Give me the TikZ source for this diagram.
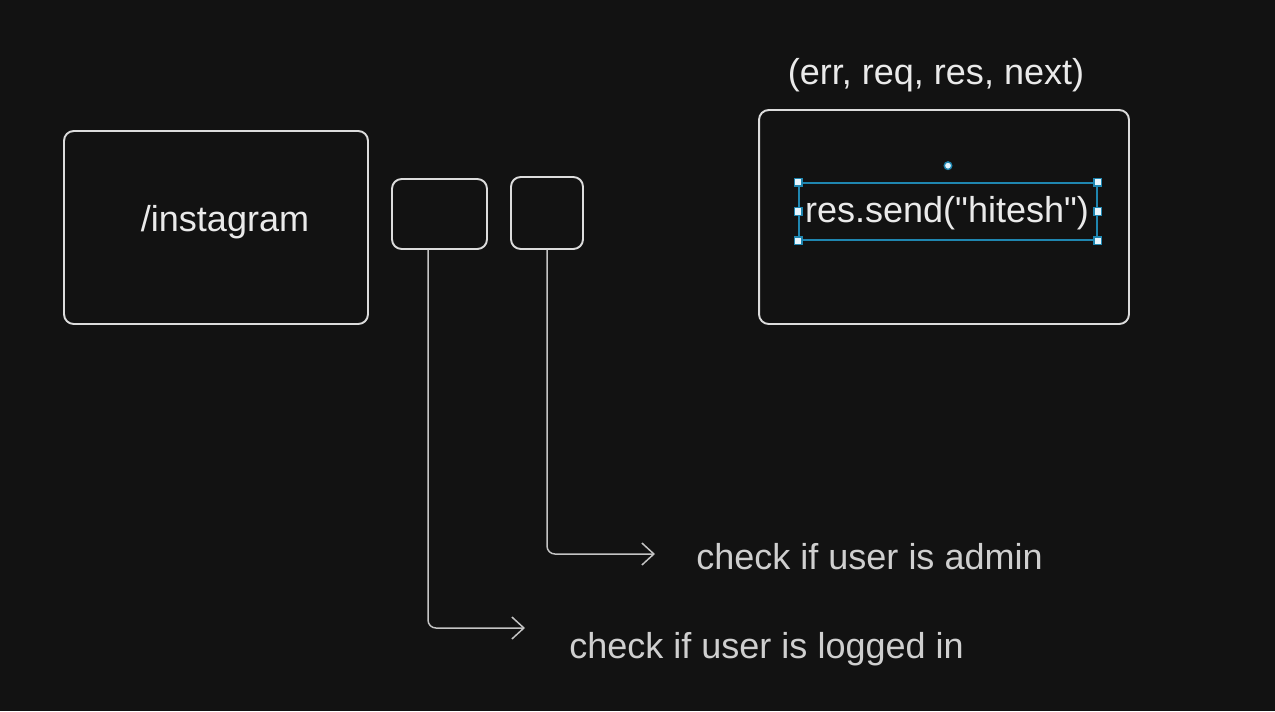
\documentclass[tikz,border=0pt]{standalone}
\usepackage{fontspec}
\setmainfont{Liberation Sans}[Ligatures=TeXOff]
\usepackage{xcolor}
\definecolor{clCanvas}{HTML}{121212}
\definecolor{clStroke}{HTML}{DCDCDC}
\definecolor{clWire}{HTML}{C4C4C4}
\definecolor{clText}{HTML}{EAEAEA}
\definecolor{clNote}{HTML}{CFCFCF}
\definecolor{clSelect}{HTML}{1F86B0}
\definecolor{clHandle}{HTML}{E6F6FF}
\usetikzlibrary{arrows.meta,positioning,calc}
\tikzset{
  sketchbox/.style={rectangle, rounded corners=5.5pt, draw=clStroke, line width=1.1pt,
                    inner sep=0pt, text=clText, font=\fontsize{20.5}{24}\selectfont},
  sketchtext/.style={inner sep=0pt, text=clText, font=\fontsize{20.5}{24}\selectfont},
  notetext/.style={sketchtext, text=clNote, anchor=west},
  selbox/.style={rectangle, draw=clSelect, line width=1pt, inner sep=0pt},
  handle/.style={rectangle, draw=clSelect, fill=clHandle, line width=0.8pt,
                 minimum size=0.15cm, inner sep=0pt},
  rothandle/.style={circle, draw=clSelect, fill=clHandle, line width=0.8pt,
                    minimum size=0.15cm, inner sep=0pt},
  flow/.style={-{Straight Barb[length=2.4mm, width=4.4mm]}, draw=clWire, line width=0.85pt,
               rounded corners=4.5pt},
}

\begin{document}
\begin{tikzpicture}[x=0.02cm, y=-0.02cm]
  \fill[clCanvas] (0,0) rectangle (1275,711);
  \useasboundingbox (0,0) rectangle (1275,711);
  % route and the two middleware boxes
  \node[sketchbox, minimum width=6.08cm, minimum height=3.86cm] (route) at (216,227.5) {};
  \node[sketchtext] (routetxt) at (225,222) {/instagram};
  \node[sketchbox, minimum width=1.9cm, minimum height=1.4cm] (mwlogin) at (439.5,214) {};
  \node[sketchbox, minimum width=1.44cm, minimum height=1.44cm] (mwadmin) at (547,213) {};
  % handler
  \node[sketchtext] (sig) at (936,75) {(err, req, res, next)};
  \node[sketchbox, minimum width=7.4cm, minimum height=4.28cm] (handler) at (944,217) {};
  \node[selbox, minimum width=5.96cm, minimum height=1.14cm] (sel) at (948,211.5) {};
  \node[sketchtext] (send) at (947,213) {res.send("hitesh")};
  \foreach \a in {north west, north east, south west, south east, west, east}
    \node[handle] at (sel.\a) {};
  \node[rothandle, above=0.24cm of sel.north] (rot) {};
  % notes
  \coordinate (adminend) at (655,554);
  \coordinate (loginend) at (525,628);
  \node[notetext] (adminnote) at (696,557) {check if user is admin};
  \node[notetext] (loginnote) at (569,649) {check if user is logged in};
  \draw[flow] (mwadmin.south) |- (adminend);
  \draw[flow] ([xshift=-0.23cm]mwlogin.south) |- (loginend);
\end{tikzpicture}
\end{document}
